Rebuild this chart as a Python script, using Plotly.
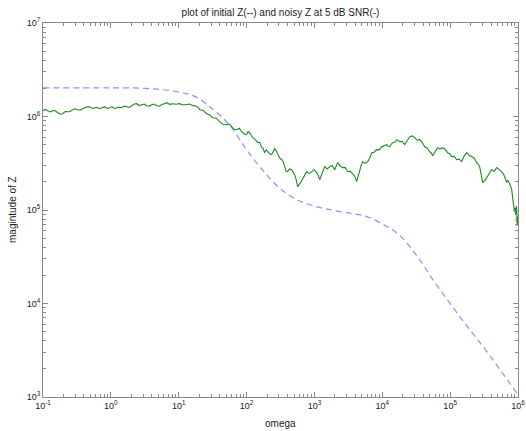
import plotly.graph_objects as go

# ---- data ----
omega_init = [0.1, 1, 3.16, 10, 17.8, 31.6, 56.2, 100, 178, 316, 562, 1000, 1780, 3160,
              5620, 10000, 17800, 31600, 56200, 100000, 178000, 316000, 562000, 1000000]
z_init = [2.02e6, 2.02e6, 2.0e6, 1.83e6, 1.62e6, 1.2e6, 8.1e5, 4.4e5, 2.6e5, 1.68e5, 1.28e5,
          1.1e5, 1.0e5, 9.3e4, 8.6e4, 7.1e4, 5.4e4, 3.3e4, 1.78e4, 1.0e4, 5.7e3, 3.35e3,
          1.9e3, 1.05e3]

omega_noisy = [
    0.1, 0.108, 0.117, 0.128, 0.139, 0.151, 0.165, 0.18, 0.195, 0.212, 0.231, 0.252, 0.274,
    0.298, 0.325, 0.354, 0.385, 0.433, 0.488, 0.531, 0.578, 0.63, 0.685, 0.745, 0.811, 0.883,
    0.961, 1.05, 1.14, 1.28, 1.44, 1.57, 1.71, 1.86, 2.03, 2.21, 2.40, 2.62, 2.85, 3.10, 3.37,
    3.67, 4.00, 4.35, 4.74, 5.16, 5.61, 6.11, 6.65, 7.36, 8.15, 9.16, 10.3, 11.6, 13.1, 14.5,
    16.1, 17.2, 18.4, 19.4, 20.4, 23.0, 25.8, 28.6, 31.7, 35.7, 40.2, 45.2, 50.9, 55.4, 60.4,
    65.7, 71.5, 77.8, 84.7, 92.0, 100, 105, 111, 117, 123, 134, 146, 156, 167, 176, 185, 195,
    205, 219, 234, 247, 260, 273, 287, 307, 329, 346, 364, 384, 404, 432, 462, 486, 512, 539,
    567, 607, 649, 706, 769, 837, 911, 992, 1080, 1136, 1195, 1301, 1416, 1542, 1679, 1828,
    1990, 2094, 2203, 2397, 2609, 2839, 3090, 3365, 3664, 3922, 4198, 4416, 4645, 4886, 5140,
    5597, 6095, 6523, 6982, 7597, 8267, 9000, 9795, 10660, 11600, 12210, 12850, 13520, 14230,
    15230, 16300, 17150, 18040, 19640, 21380, 23270, 25330, 27570, 30000, 32660, 35560, 38710,
    42140, 45860, 49900, 52530, 55300, 60180, 65500, 71300, 77600, 84490, 92000, 98470,
    105400, 114700, 124900, 135900, 147900, 161000, 175300, 190800, 207600, 226000, 246000,
    258900, 272400, 286600, 301600, 322800, 345400, 376000, 409300, 445700, 485300, 528100,
    574600, 604700, 636400, 658200, 680700, 704600, 729400, 767500, 807500, 821300, 835300,
    863700, 893100, 908700, 924700, 940000, 955000, 965000, 975000, 987000, 1000000]
z_noisy = [
    1.154e6, 1.19e6, 1.154e6, 1.12e6, 1.154e6, 1.15e6, 1.098e6, 1.06e6, 1.072e6, 1.13e6,
    1.126e6, 1.13e6, 1.183e6, 1.21e6, 1.183e6, 1.17e6, 1.212e6, 1.26e6, 1.273e6, 1.22e6,
    1.242e6, 1.25e6, 1.212e6, 1.25e6, 1.273e6, 1.22e6, 1.242e6, 1.27e6, 1.212e6, 1.26e6,
    1.242e6, 1.29e6, 1.273e6, 1.25e6, 1.305e6, 1.36e6, 1.371e6, 1.31e6, 1.337e6, 1.36e6,
    1.305e6, 1.29e6, 1.337e6, 1.36e6, 1.305e6, 1.29e6, 1.337e6, 1.38e6, 1.405e6, 1.35e6,
    1.371e6, 1.35e6, 1.371e6, 1.33e6, 1.337e6, 1.36e6, 1.305e6, 1.31e6, 1.273e6, 1.26e6,
    1.183e6, 1.16e6, 1.072e6, 1.04e6, 9.71e5, 9.6e5, 8.80e5, 8.2e5, 8.17e5, 8.3e5, 7.78e5,
    7.3e5, 7.23e5, 7.5e5, 6.88e5, 6.5e5, 6.39e5, 6.9e5, 6.71e5, 6.2e5, 5.93e5, 5.7e5, 5.25e5,
    5.3e5, 4.64e5, 4.55e5, 4.10e5, 4.4e5, 4.20e5, 4.0e5, 3.91e5, 4.3e5, 4.53e5, 4.3e5,
    3.91e5, 3.6e5, 3.45e5, 3.3e5, 2.91e5, 2.6e5, 2.57e5, 2.75e5, 2.70e5, 2.5e5, 2.39e5,
    2.1e5, 1.78e5, 1.9e5, 2.06e5, 2.3e5, 2.57e5, 2.45e5, 2.57e5, 2.7e5, 2.51e5, 2.35e5,
    2.11e5, 2.5e5, 2.91e5, 2.75e5, 2.91e5, 3.0e5, 2.70e5, 2.95e5, 3.21e5, 2.95e5, 2.84e5,
    2.85e5, 2.57e5, 2.6e5, 2.39e5, 2.3e5, 2.01e5, 2.3e5, 2.70e5, 3.0e5, 3.29e5, 3.15e5,
    3.29e5, 3.6e5, 4.10e5, 4.15e5, 4.42e5, 4.4e5, 4.75e5, 4.9e5, 5.00e5, 4.8e5, 4.75e5,
    5.05e5, 5.25e5, 5.3e5, 5.65e5, 5.5e5, 5.38e5, 5.4e5, 5.00e5, 5.5e5, 6.08e5, 6.2e5,
    5.93e5, 5.6e5, 5.65e5, 5.3e5, 4.75e5, 4.6e5, 4.20e5, 4.1e5, 3.81e5, 4.2e5, 4.64e5,
    4.5e5, 4.64e5, 4.45e5, 4.10e5, 4.0e5, 3.72e5, 3.75e5, 3.45e5, 3.5e5, 3.29e5, 3.8e5,
    4.10e5, 3.85e5, 3.72e5, 3.6e5, 3.21e5, 3.1e5, 2.91e5, 2.4e5, 1.96e5, 2.05e5, 2.22e5,
    2.5e5, 2.70e5, 2.6e5, 2.84e5, 2.7e5, 2.51e5, 2.45e5, 2.27e5, 2.15e5, 1.96e5, 2.1e5,
    2.01e5, 1.85e5, 1.65e5, 1.45e5, 1.20e5, 1.1e5, 9.59e4, 1.05e5, 8.91e4, 1.1e5, 1.06e5,
    7.5e4, 6.80e4, 8.5e4, 7.88e4]

x_exponents = [-1, 0, 1, 2, 3, 4, 5, 6]
y_exponents = [3, 4, 5, 6, 7]

title_text = "plot of initial Z(--) and noisy Z at 5 dB SNR(-)"
x_label = "omega"
y_label = "magintude of Z"

FONT = "Liberation Sans, Arial, sans-serif"
AXIS_COLOR = "#8a8a8a"


def decade_ticks(exps):
    vals = [10.0 ** e for e in exps]
    text = ["10<sup>%d</sup>" % e for e in exps]
    minor = [m * 10.0 ** e for e in exps[:-1] for m in range(2, 10)]
    return vals, text, minor


xv, xt, xm = decade_ticks(x_exponents)
yv, yt, ym = decade_ticks(y_exponents)

fig = go.Figure()
fig.add_trace(go.Scatter(x=omega_init, y=z_init, mode="lines",
                         line=dict(color="#8f8fff", width=1.2, dash="6px,4px", shape="spline"),
                         showlegend=False, hoverinfo="skip", cliponaxis=True))
fig.add_trace(go.Scatter(x=omega_noisy, y=z_noisy, mode="lines",
                         line=dict(color="#1b8c1b", width=1.1),
                         showlegend=False, hoverinfo="skip", cliponaxis=True))

axis_common = dict(
    type="log", showline=True, linecolor=AXIS_COLOR, automargin=False,
    linewidth=1, mirror="ticks", ticks="inside", ticklen=5, tickcolor=AXIS_COLOR,
    showgrid=False, zeroline=False, tickfont=dict(family=FONT, size=9, color="#222"),
)

fig.update_layout(
    width=526, height=431,
    margin=dict(l=43, r=8, t=23, b=34, autoexpand=False),
    paper_bgcolor="white", plot_bgcolor="white",
    font=dict(family=FONT, size=10, color="#222"),
    xaxis=dict(range=[-1, 6], tickvals=xv, ticktext=xt,
               minor=dict(tickvals=xm, ticks="inside", ticklen=3, tickcolor=AXIS_COLOR,
                          showgrid=False),
               **axis_common),
    yaxis=dict(range=[3, 7], tickvals=yv, ticktext=yt,
               minor=dict(tickvals=ym, ticks="inside", ticklen=3, tickcolor=AXIS_COLOR,
                          showgrid=False),
               **axis_common),
    title=dict(text=title_text, x=0.5, xref="paper", y=1 - 12 / 431, yref="container",
               yanchor="middle", xanchor="center", font=dict(size=10, family=FONT, color="#222")),
    annotations=[
        dict(text=x_label, xref="paper", yref="paper", x=0.5, y=0, yshift=-26,
             showarrow=False, xanchor="center", yanchor="middle",
             font=dict(size=10, family=FONT, color="#222")),
        dict(text=y_label, xref="paper", yref="paper", x=0, y=0.5, xshift=-31,
             showarrow=False, xanchor="center", yanchor="middle", textangle=-90,
             font=dict(size=10, family=FONT, color="#222")),
    ],
)

fig.write_html("out.html")
